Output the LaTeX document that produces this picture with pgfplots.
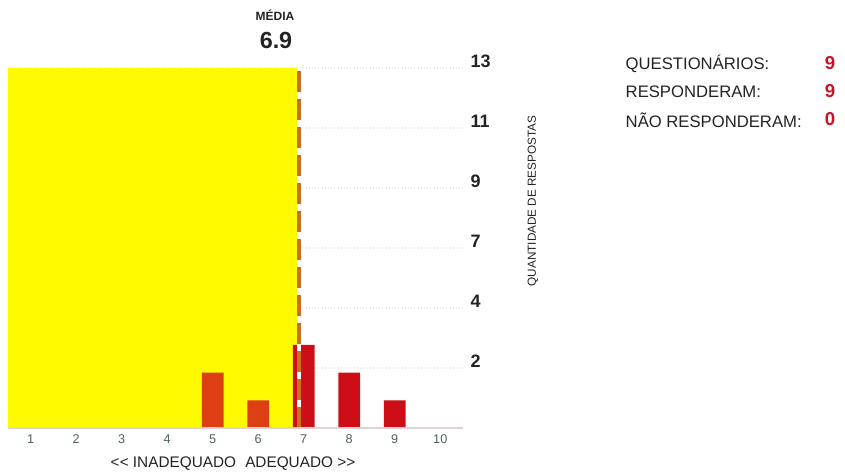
\documentclass[border=0pt]{standalone}
\usepackage{pgfplots}
\pgfplotsset{compat=1.18}
\usepackage{fontspec}
\setmainfont{Liberation Sans}
\definecolor{yel}{RGB}{255,250,0}
\definecolor{barA}{RGB}{222,62,20}
\definecolor{barB}{RGB}{206,14,22}
\definecolor{meanc}{RGB}{205,110,30}
\definecolor{tickgray}{RGB}{80,95,95}
\definecolor{valred}{RGB}{200,20,40}
\definecolor{txt}{RGB}{35,35,35}
\definecolor{basec}{RGB}{228,208,212}
\begin{document}
\begin{tikzpicture}[x=0.75pt,y=-0.75pt]
\useasboundingbox (0,0) rectangle (845,471);
\begin{axis}[at={(6pt,-321pt)}, anchor=south west,
  width=341.25pt, height=270pt, scale only axis,
  xmin=0.5, xmax=10.5, ymin=0, ymax=13,
  axis line style={draw=none},
  tick style={draw=none},
  xtick={1,2,3,4,5,6,7,8,9,10},
  ytick={2.1667,4.3333,6.5,8.6667,10.8333,13},
  yticklabels={2,4,7,9,11,13},
  yticklabel pos=right,
  ymajorgrids,
  grid style={dotted, gray!18, line width=0.8pt},
  xticklabel style={font=\fontsize{9.5}{10}\selectfont, text=tickgray, yshift=-1.5pt},
  yticklabel style={font=\bfseries\fontsize{13.5}{14}\selectfont, text=txt, anchor=west, xshift=2.25pt, yshift=4.9pt},
  /pgf/number format/assume math mode=true,
  clip=false,
]
\addplot[fill=yel, draw=none] coordinates {(0.5,13) (6.9,13)} \closedcycle;
\addplot[ybar, bar width=0.48, bar shift=0pt, fill=barA, draw=none] coordinates {(5,2) (6,1)};
\addplot[ybar, bar width=0.48, bar shift=0pt, fill=barB, draw=none] coordinates {(7,3) (8,2) (9,1)};
\addplot[draw=white, line width=3pt] coordinates {(6.9,0) (6.9,13)};
\addplot[draw=meanc, line width=2.6pt, dash pattern=on 16pt off 5pt] coordinates {(6.9,0) (6.9,13)};
\addplot[draw=basec, line width=1pt] coordinates {(0.5,0) (10.5,0)};
\end{axis}
\node[font=\bfseries\fontsize{9}{9}\selectfont, text=txt, anchor=base] at (275,21) {MÉDIA};
\node[font=\bfseries\fontsize{17.5}{18}\selectfont, text=txt, anchor=base] at (276,48) {6.9};
\node[rotate=90, font=\fontsize{8.8}{9}\selectfont, text=txt] at (533,201) {QUANTIDADE DE RESPOSTAS};
\node[font=\fontsize{11.5}{12}\selectfont, text=txt, anchor=base] at (233,467) {<\kern0.2pt< INADEQUADO\hspace{0.6em}ADEQUADO >\kern0.2pt>};
\node[font=\fontsize{12.5}{13}\selectfont, text=txt, anchor=west] at (621,64) {QUESTIONÁRIOS:};
\node[font=\fontsize{12.5}{13}\selectfont, text=txt, anchor=west] at (621,92) {RESPONDERAM:};
\node[font=\fontsize{12.5}{13}\selectfont, text=txt, anchor=west] at (621,120) {NÃO RESPONDERAM:};
\node[font=\bfseries\fontsize{14}{14}\selectfont, text=valred] at (830,63) {9};
\node[font=\bfseries\fontsize{14}{14}\selectfont, text=valred] at (830,91) {9};
\node[font=\bfseries\fontsize{14}{14}\selectfont, text=valred] at (830,119) {0};
\end{tikzpicture}
\end{document}
